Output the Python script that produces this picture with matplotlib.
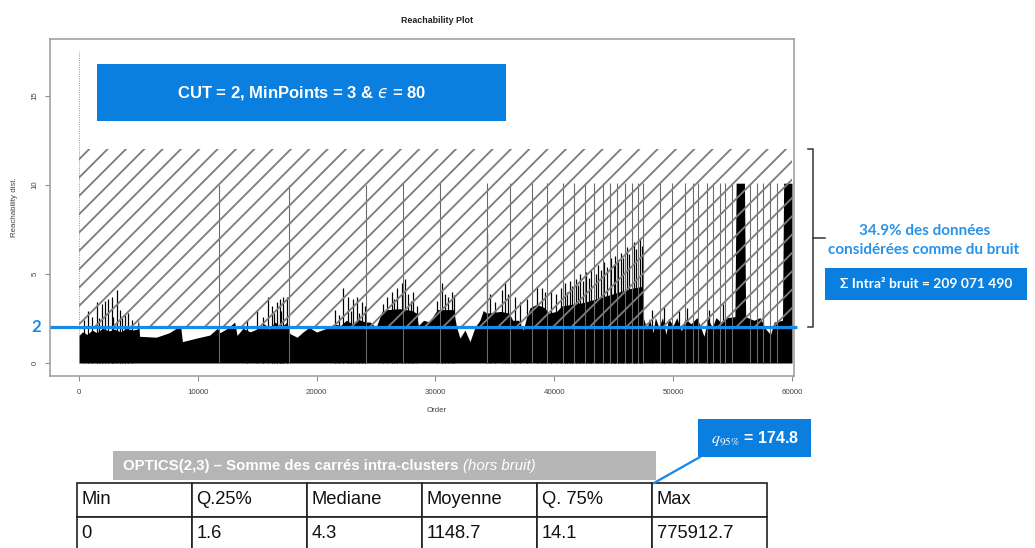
import matplotlib
matplotlib.use("Agg")
import matplotlib.pyplot as plt
from matplotlib.patches import Rectangle
from matplotlib.transforms import blended_transform_factory

# ---------------------------------------------------------------- data
# OPTICS parameters
CUT = 2
MIN_POINTS = 3
EPS = 80
HATCH_TOP = 12          # upper edge of the "noise" band
FIRST_POINT_REACH = 17.5  # undefined reachability of the first point

# upper envelope of the dense reachability bars (order, reachability)
env_order = [0, 300, 700, 1100, 1500, 2000, 2500, 3000, 3500, 4000, 4500, 4900,
             5000, 5100, 6500, 7600, 8300, 8550, 8700, 9900, 11000, 11650, 11850,
             12500, 13100, 13300, 13800, 14400, 15200, 15600, 16000, 16500, 17000,
             17500, 17750, 18350, 18850, 19400, 19600, 20000, 20900, 21500, 22000,
             22500, 23000, 23500, 24100, 24500, 25000, 25500, 26000, 27000, 28000,
             28400, 28550, 29000, 29500, 29950, 30200, 31500, 31780, 32060, 32480,
             32900, 33320, 33740, 34020, 34300, 35500, 36200, 36500, 37000, 37390,
             37600, 37950, 38500, 39200, 39500, 40200, 40600, 41500, 42500, 43500,
             44500, 45500, 46500, 47400, 47480, 47800, 48000, 48300, 48500, 48800,
             49100, 49400, 49600, 50000, 50300, 50700, 51000, 51500, 52000, 52600,
             52900, 53300, 53600, 54000, 54500, 55200, 55300, 56000, 56100, 56800,
             57300, 57800, 58200, 58500, 59200, 59300, 60000]
env_reach = [1.55, 1.75, 1.6, 1.85, 1.7, 1.95, 1.8, 1.9, 1.75, 1.95, 1.85, 1.9,
             2.5, 1.5, 1.45, 1.7, 2.0, 2.1, 1.2, 1.4, 1.57, 1.95, 1.7,
             1.95, 2.3, 1.55, 1.95, 1.75, 1.97, 2.2, 1.9, 2.3, 2.0,
             2.3, 1.65, 1.45, 1.74, 2.02, 1.9, 1.74, 1.97, 2.2, 2.1,
             2.4, 2.2, 2.45, 2.3, 2.3, 2.0, 2.9, 3.0, 3.05, 2.95,
             2.8, 2.1, 2.4, 2.3, 2.8, 3.0, 3.0, 2.0, 1.4, 1.85,
             1.2, 2.0, 2.4, 2.95, 2.8, 2.9, 2.8, 2.4, 2.4, 1.85,
             2.4, 3.1, 3.3, 3.1, 2.8, 2.9, 3.2, 3.3, 3.4, 3.6,
             3.8, 4.0, 4.2, 4.3, 2.55, 1.9, 2.5, 1.7, 2.55, 2.0,
             2.55, 1.6, 2.5, 2.1, 2.55, 1.8, 2.5, 2.2, 2.55, 1.5,
             2.5, 2.0, 2.55, 2.3, 2.55, 2.6, 10.1, 10.1, 2.6, 2.4,
             2.55, 1.9, 1.6, 2.3, 2.4, 10.1, 10.1]

# individual reachability spikes rising above the envelope
spike_order = [400, 790, 1100, 1490, 1700, 1910, 2190, 2470, 2750, 2900, 3170,
               3450, 3650, 3870, 4150, 4450, 14100,
               14950, 15500, 15930, 16210, 16400, 16640, 16910, 17000, 17190, 17470,
               21540, 21900, 22240, 22660, 22900, 23090, 23370, 23600, 23790, 24070,
               25600, 25890, 26310, 26500, 26730, 27150, 27430, 27710, 27900, 28130, 28410,
               30100, 30520, 30800, 31080, 31360, 31560,
               34330, 34580, 35000, 35560, 35840, 36120, 36690, 37110, 37670, 38510,
               38930, 39210, 39750, 40170, 40590,
               40900, 41100, 41300, 41500, 41800, 42000, 42200, 42400, 42700, 42900,
               43100, 43500, 43700, 43900, 44200, 44400, 44800, 45000, 45100, 45400,
               45600, 45800, 46100, 46300, 46700, 46900, 47200, 47350,
               48200, 49200, 50500, 51200, 53000, 54200, 57600]
spike_reach = [2.4, 2.9, 2.6, 3.4, 2.5, 3.3, 3.5, 3.6, 3.7, 2.6, 4.1,
               3.0, 2.5, 2.7, 2.8, 2.4, 2.4,
               3.0, 2.6, 3.7, 3.2, 2.8, 3.4, 3.6, 2.9, 3.7, 3.7,
               3.0, 2.7, 4.2, 3.7, 2.9, 3.6, 3.7, 2.8, 3.4, 3.2,
               3.3, 3.7, 4.0, 3.6, 4.2, 4.5, 4.7, 3.9, 3.5, 4.0, 3.2,
               3.5, 4.5, 3.9, 3.7, 4.0, 3.8,
               7.3, 3.9, 3.4, 4.1, 4.5, 3.9, 3.7, 3.4, 3.6, 4.3,
               4.2, 4.0, 4.1, 3.9, 4.2,
               4.5, 4.0, 4.6, 4.3, 4.7, 4.4, 5.0, 4.6, 5.1, 4.8,
               5.3, 5.0, 5.5, 5.2, 5.7, 5.4, 5.9, 5.5, 6.0, 5.8,
               6.2, 5.9, 6.5, 6.1, 6.8, 6.4, 7.0, 6.6,
               3.0, 3.2, 2.9, 3.1, 3.0, 3.3, 3.0]

# isolated tall reachability peaks
peak_order = [11780, 17670, 24150, 27270, 30380, 34330, 36270, 38120, 39380,
              40730, 41650, 42580, 43340, 44100, 44680, 45270, 45950, 46530,
              47040, 47480, 48890, 49870, 50990, 51670, 52110, 52820, 53370,
              53940, 54360, 54920, 56460, 57030, 57590, 58150, 58710]
peak_reach = [10.0, 10.0, 10.0, 10.1, 10.1, 10.1, 10.1, 10.1, 10.1,
              10.1, 10.1, 10.1, 10.1, 10.1, 10.1, 10.1, 10.1, 10.1,
              10.1, 10.1, 10.1, 10.1, 10.1, 10.1, 10.1, 10.1, 10.1,
              10.1, 10.1, 10.1, 10.1, 10.1, 10.1, 10.1, 10.1]

x_ticks = [0, 10000, 20000, 30000, 40000, 50000, 60000]
y_ticks = [0, 5, 10, 15]

# intra-cluster sum of squares summary
stat_labels = ["Min", "Q.25%", "Mediane", "Moyenne", "Q. 75%", "Max"]
stat_values = ["0", "1.6", "4.3", "1148.7", "14.1", "775912.7"]
Q95 = 174.8
NOISE_PCT = 34.9
NOISE_SS = "209 071 490"

# ---------------------------------------------------------------- style
DPI = 110
W, H = 1035, 548
BOX_BLUE = "#0B7FDF"
TEXT_BLUE = "#2A92E8"
LINE_BLUE = "#1A8AE5"
R_FONT = "Liberation Sans"
SLIDE_FONT = ["Lato", "DejaVu Sans"]

plt.rcParams["hatch.linewidth"] = 1.2

fig = plt.figure(figsize=(W / DPI, H / DPI), dpi=DPI)
fig.patch.set_facecolor("white")

# ---------------------------------------------------------------- reachability plot
ax = fig.add_axes([50 / W, (H - 376) / H, (794 - 50) / W, (376 - 39) / H])
ax.set_xlim(-2440, 60170)
ax.set_ylim(-0.73, 18.2)

ax.fill_between(env_order, 0, env_reach, color="black", linewidth=0, zorder=2)
ax.vlines(spike_order, 0, spike_reach, colors="black", linewidth=0.8, zorder=2)
ax.vlines(peak_order, 0, peak_reach, colors="#6a6a6a", linewidth=0.7, zorder=2)
ax.vlines(0, 0, FIRST_POINT_REACH, colors="#8a8a8a", linestyles=(0, (1, 1.5)),
          linewidth=0.6, zorder=2)

noise_band = Rectangle((0, CUT), x_ticks[-1], HATCH_TOP - CUT, facecolor="none",
                       edgecolor="#7d7d7d", hatch="//", linewidth=0, zorder=3)
ax.add_patch(noise_band)

for sp in ax.spines.values():
    sp.set_color("#9a9a9a")
    sp.set_linewidth(1.0)

ax.set_xticks(x_ticks)
ax.set_xticklabels([str(t) for t in x_ticks], fontsize=5.2, color="#444",
                   fontfamily=R_FONT)
ax.set_yticks(y_ticks)
ax.set_yticklabels([str(t) for t in y_ticks], fontsize=5.2, color="#444",
                   fontfamily=R_FONT, rotation=90, va="center")
ax.tick_params(axis="both", length=3.3, width=0.7, color="#8c8c8c")
ax.tick_params(axis="x", pad=5)
ax.tick_params(axis="y", pad=4)

ax.set_title("Reachability Plot", fontsize=5.8, fontweight="bold",
             fontfamily=R_FONT, x=0.52, pad=10.5, color="#222")
ax.set_xlabel("Order", fontsize=5.2, fontfamily=R_FONT, color="#444")
ax.xaxis.set_label_coords(0.52, -0.092)
ax.set_ylabel("Reachability dist.", fontsize=5.2, fontfamily=R_FONT, color="#444")
ax.yaxis.set_label_coords(-0.043, 0.5)

# cut level
yblend = blended_transform_factory(ax.transAxes, ax.transData)
ax.plot([0, 1.004], [CUT, CUT], color=LINE_BLUE, linewidth=2.1,
        transform=yblend, clip_on=False, zorder=5, solid_capstyle="butt")
ax.text(-0.019, CUT, str(CUT), transform=yblend, ha="center", va="center",
        fontsize=11, fontweight="bold", color=LINE_BLUE, family=SLIDE_FONT)

# ---------------------------------------------------------------- annotations
ov = fig.add_axes([0, 0, 1, 1], zorder=10)
ov.set_xlim(0, W)
ov.set_ylim(H, 0)
ov.axis("off")

ov.add_patch(Rectangle((97, 64), 409, 57, facecolor=BOX_BLUE, edgecolor="none"))
ov.text(302, 93, f"CUT = {CUT}, MinPoints = {MIN_POINTS} & $\u03f5$ = {EPS}",
        ha="center", va="center", color="white", fontsize=10.9,
        fontweight="bold", fontfamily=R_FONT)

# bracket around the noise band
bblend = blended_transform_factory(ov.transData, ax.transData)
mid = (CUT + HATCH_TOP) / 2
ov.plot([808, 813, 813, 808], [HATCH_TOP, HATCH_TOP, CUT, CUT], color="#333",
        linewidth=1.0, transform=bblend, clip_on=False)
ov.plot([813, 825], [mid, mid], color="#333", linewidth=1.0, transform=bblend,
        clip_on=False)

ov.text(925, 231, f"{NOISE_PCT}% des données", ha="center", va="center",
        color=TEXT_BLUE, fontsize=10, fontweight="bold", family=SLIDE_FONT)
ov.text(924, 250, "considérées comme du bruit", ha="center", va="center",
        color=TEXT_BLUE, fontsize=10, fontweight="bold", family=SLIDE_FONT)

ov.add_patch(Rectangle((825, 268), 202, 32, facecolor=BOX_BLUE, edgecolor="none"))
ov.text(926, 284, f"Σ Intra² bruit = {NOISE_SS}", ha="center", va="center",
        color="white", fontsize=9, fontweight="bold", family=SLIDE_FONT)

# summary table
ov.add_patch(Rectangle((113, 451), 543, 29, facecolor="#b5b5b5", edgecolor="none"))
t1 = ov.text(123, 466, "OPTICS(2,3) – Somme des carrés intra-clusters",
             ha="left", va="center", color="white", fontsize=9.8,
             fontweight="bold", fontfamily=R_FONT)
ov.annotate("(hors bruit)", xy=(1, 0.5), xycoords=t1, xytext=(3, 0),
            textcoords="offset points", ha="left", va="center", color="white",
            fontsize=9.8, style="italic", fontfamily=R_FONT)

tbl = ov.table(cellText=[stat_values], colLabels=stat_labels, cellLoc="left",
               colLoc="left",
               bbox=[77 / W, (H - 551) / H, (767 - 77) / W, (551 - 483) / H])
tbl.auto_set_font_size(False)
tbl.set_fontsize(12)
for cell in tbl.get_celld().values():
    cell.set_edgecolor("#222")
    cell.set_linewidth(1.1)
    cell.PAD = 0.04
    cell.get_text().set_fontfamily(R_FONT)
    cell.get_text().set_color("#111")

# 95% quantile callout
ov.plot([700, 654], [457, 483], color=LINE_BLUE, linewidth=1.5)
ov.add_patch(Rectangle((698, 419), 113, 38, facecolor=BOX_BLUE, edgecolor="none"))
ov.text(755, 438, f"$q_{{95\\%}}$ = {Q95}", ha="center", va="center",
        color="white", fontsize=10.5, fontweight="bold", fontfamily=R_FONT,
        math_fontfamily="stix")

fig.savefig("out.png", dpi=DPI)
